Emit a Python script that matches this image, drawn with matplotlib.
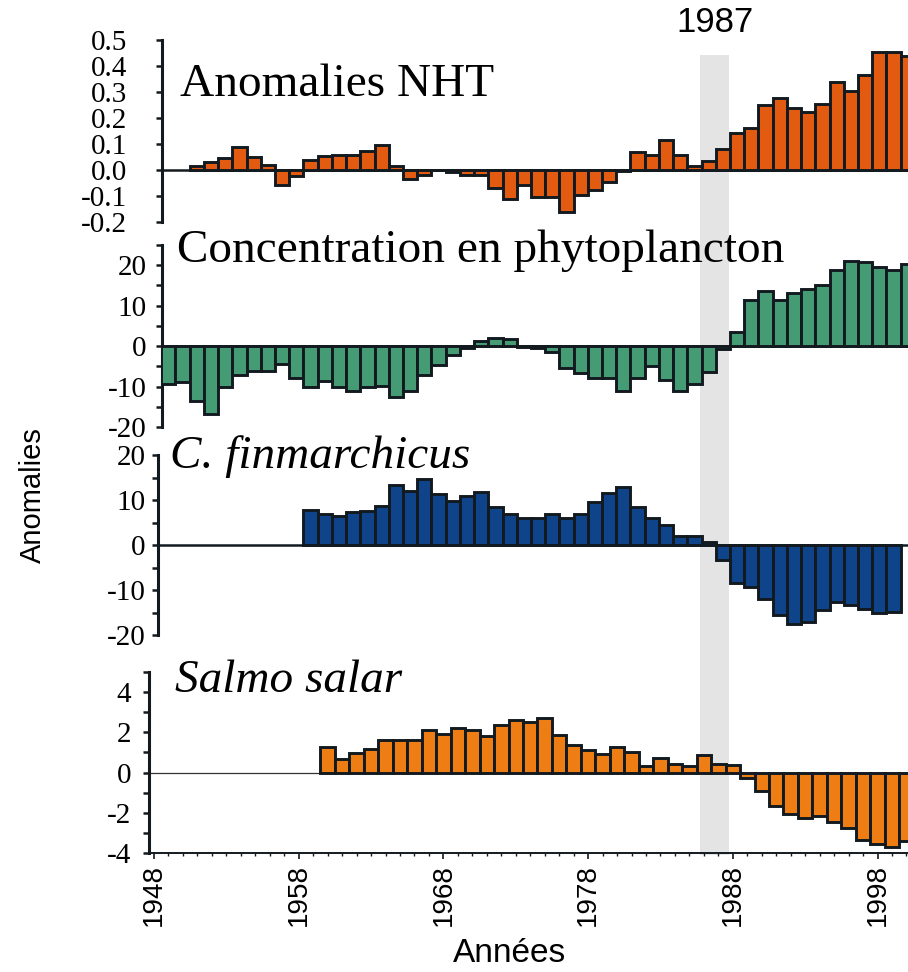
import matplotlib
matplotlib.use("Agg")
import matplotlib.pyplot as plt
import matplotlib.transforms as mtransforms
from matplotlib.patches import Rectangle
import numpy as np

plt.rcParams['axes.unicode_minus'] = False

# ---- data ----
nht_years = list(range(1950, 2001))
nht = [0.015, 0.032, 0.047, 0.09, 0.051, 0.019, -0.059, -0.023, 0.038, 0.055,
       0.059, 0.059, 0.074, 0.097, 0.015, -0.035, -0.019, 0.0, -0.007, -0.019,
       -0.019, -0.068, -0.113, -0.056, -0.105, -0.105, -0.16, -0.096, -0.077, -0.045,
       -0.005, 0.07, 0.058, 0.115, 0.058, 0.017, 0.035, 0.082, 0.142, 0.163,
       0.249, 0.278, 0.24, 0.224, 0.255, 0.337, 0.303, 0.367, 0.453, 0.453, 0.44]

phyto_years = list(range(1948, 2001))
phyto = [-9.4, -8.75, -13.6, -16.7, -10.0, -7.25, -6.1, -6.1, -4.4, -7.9,
         -10.1, -8.6, -10.1, -11.0, -10.1, -9.75, -12.5, -11.1, -7.25, -4.75,
         -2.25, -0.4, 1.25, 2.1, 1.8, -0.2, -0.4, -1.4, -5.4, -6.7,
         -7.9, -7.9, -11.1, -7.9, -5.0, -8.3, -11.1, -9.4, -6.4, -0.8,
         3.5, 11.5, 13.7, 11.5, 13.2, 14.0, 15.0, 18.75, 21.0, 20.7,
         19.6, 18.75, 20.4]

cfin_years = list(range(1958, 2000))
cfin = [7.85, 6.9, 6.5, 7.25, 7.5, 8.6, 13.3, 12.1, 14.7, 11.3,
        9.7, 10.8, 11.7, 8.5, 6.9, 5.9, 5.9, 6.9, 5.9, 6.9,
        9.6, 11.6, 13.0, 8.5, 5.9, 4.4, 2.1, 2.1, 0.7, -3.3,
        -8.5, -9.4, -12.0, -15.5, -17.6, -17.0, -14.4, -12.6, -13.3, -14.2,
        -15.2, -14.8]

salmo_years = list(range(1960, 2001))
salmo = [1.28, 0.66, 0.95, 1.15, 1.6, 1.64, 1.64, 2.13, 1.93, 2.2,
         2.13, 1.8, 2.34, 2.6, 2.52, 2.7, 1.89, 1.39, 1.11, 0.93,
         1.28, 1.02, 0.33, 0.72, 0.44, 0.33, 0.85, 0.44, 0.38, -0.28,
         -0.9, -1.67, -2.05, -2.25, -2.16, -2.46, -2.75, -3.33, -3.56, -3.72,
         -3.39]

titles = ["Anomalies NHT", "Concentration en phytoplancton",
          "C. finmarchicus", "Salmo salar"]
decades = [1948, 1958, 1968, 1978, 1988, 1998]
shift_label = "1987"
band = (1985.75, 1987.75)

# ---- layout (pixels of a 908x972 image) ----
W, H = 908, 972
fig = plt.figure(figsize=(W / 100, H / 100), dpi=100)

SERIF = "Liberation Serif"
SANS = "Liberation Sans"
EDGE = "#121a20"
LW = 2.1


def px2year_top(p):
    # upper three panels share this bar spacing
    return 1986 + (p - 708.7) / 14.22


def px2year_bottom(p):
    return 1948 + (p - 154) / 14.47


def add_panel(left, top, bottom, xconv):
    ax = fig.add_axes([left / W, 1 - bottom / H, (W - left) / W, (bottom - top) / H])
    ax.set_xlim(xconv(left), xconv(W))
    ax.set_facecolor("none")
    for s in ["top", "right"]:
        ax.spines[s].set_visible(False)
    ax.spines["left"].set_linewidth(2.2)
    ax.spines["left"].set_color(EDGE)
    return ax


def set_yaxis(ax, major, minor, fmt, pad):
    ax.set_yticks(major, labels=[fmt % v for v in major])
    if minor:
        ax.set_yticks(minor, minor=True)
    ax.tick_params(axis="y", which="both", direction="out", length=4, width=1.8,
                   color=EDGE, labelsize=21, labelfontfamily=SERIF, pad=pad)


def hide_x(ax):
    ax.spines["bottom"].set_visible(False)
    ax.set_xticks([])


# panel 1 - NHT
ax1 = add_panel(162, 40, 222, px2year_top)
ax1.bar(nht_years, nht, width=1.0, color="#e35b10", edgecolor=EDGE, linewidth=LW, zorder=3)
ax1.axhline(0, color=EDGE, lw=1.8, zorder=2)
ax1.set_ylim(-0.2, 0.5)
set_yaxis(ax1, list(np.round(np.arange(-0.2, 0.51, 0.1), 1)), None, "%.1f", 21)
hide_x(ax1)

# panel 2 - phytoplankton
ax2 = add_panel(162, 245, 427, px2year_top)
ax2.bar(phyto_years, phyto, width=1.0, color="#459b74", edgecolor=EDGE, linewidth=LW, zorder=3)
ax2.axhline(0, color=EDGE, lw=1.8, zorder=2)
ax2.set_ylim(-20, 25)
set_yaxis(ax2, [-20, -10, 0, 10, 20], [-15, -5, 5, 15, 25], "%d", 7)
hide_x(ax2)

# panel 3 - C. finmarchicus
ax3 = add_panel(158, 455, 635, px2year_top)
ax3.bar(cfin_years, cfin, width=1.0, color="#0f438a", edgecolor=EDGE, linewidth=LW, zorder=3)
ax3.axhline(0, color=EDGE, lw=1.8, zorder=2)
ax3.set_ylim(-20, 20)
set_yaxis(ax3, [-20, -10, 0, 10, 20], [-15, -5, 5, 15], "%d", 5)
hide_x(ax3)

# panel 4 - Salmo salar
ax4 = add_panel(149, 672, 853, px2year_bottom)
ax4.bar(salmo_years, salmo, width=1.0, color="#ee7e13", edgecolor=EDGE, linewidth=LW, zorder=3)
ax4.axhline(0, color="#333333", lw=0.9, zorder=2)
ax4.set_ylim(-4, 5)
set_yaxis(ax4, [-4, -2, 0, 2, 4], [-3, -1, 1, 3, 5], "%d", 9)
ax4.spines["bottom"].set_linewidth(1.4)
ax4.spines["bottom"].set_color(EDGE)
ax4.set_xticks(decades, labels=[str(d) for d in decades], rotation=90, va="top")
ax4.set_xticks(range(1948, 2001), minor=True)
ax4.tick_params(axis="x", which="major", direction="out", length=4, width=1.2,
                color=EDGE, labelsize=20, labelfontfamily=SANS, pad=4)
ax4.tick_params(axis="x", which="minor", direction="out", length=2.5, width=1.0, color=EDGE)

# grey band for the regime shift, spanning all panels
trans = mtransforms.blended_transform_factory(ax4.transData, fig.transFigure)
fig.add_artist(Rectangle((band[0], 1 - 855 / H), band[1] - band[0], (855 - 55) / H,
                         transform=trans, facecolor="#e4e4e4", edgecolor="none", zorder=-1))
fig.text(sum(band) / 2, 1 - 23 / H, shift_label, transform=trans, ha="center", va="center",
         fontsize=25, family=SANS)

# panel names
fig.text(180 / W, 1 - 96 / H, titles[0], fontsize=34, family=SERIF, va="baseline")
fig.text(177 / W, 1 - 262 / H, titles[1], fontsize=34, family=SERIF, va="baseline")
fig.text(170 / W, 1 - 468 / H, titles[2], fontsize=34, family=SERIF, style="italic", va="baseline")
fig.text(175 / W, 1 - 692 / H, titles[3], fontsize=34, family=SERIF, style="italic", va="baseline")

# axis labels
fig.text(33 / W, 1 - 495 / H, "Anomalies", rotation=90, fontsize=21, family=SANS,
         ha="center", va="center")
fig.text(510 / W, 1 - 969 / H, "Années", fontsize=24, family=SANS, ha="center", va="bottom")

fig.savefig("out.png", dpi=100)
